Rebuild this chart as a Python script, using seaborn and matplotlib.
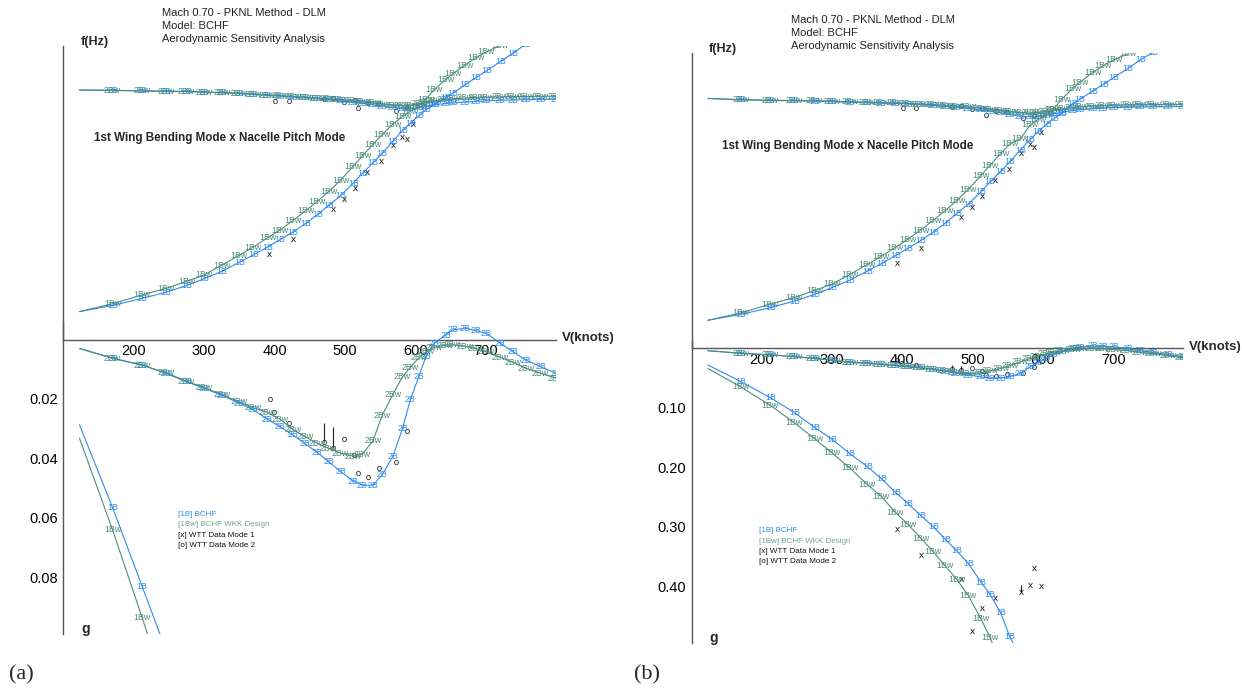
import numpy as np
import pandas as pd
import matplotlib
matplotlib.use("Agg")
import matplotlib.pyplot as plt
import seaborn as sns

# ---------------- data ----------------
V = [123, 170, 212, 246, 275, 300, 325, 350, 370, 390, 408, 426, 444, 461, 477, 494,
     512, 525, 540, 553, 568, 582, 593, 605, 615, 627, 643, 653, 671, 686, 701, 721,
     739, 757, 778, 800]

# panel (a) frequency (tick units)
a_f_1B = [0.95, 1.16, 1.40, 1.61, 1.84, 2.07, 2.32, 2.63, 2.88, 3.15, 3.40, 3.66, 3.95, 4.25,
          4.57, 4.90, 5.33, 5.66, 6.02, 6.34, 6.75, 7.12, 7.37, 7.62, 7.82, 8.02, 8.24, 8.39,
          8.68, 8.92, 9.15, 9.47, 9.76, 10.06]
a_f_1Bw = [0.95, 1.22, 1.52, 1.74, 1.98, 2.20, 2.53, 2.87, 3.15, 3.46, 3.73, 4.05, 4.38, 4.71,
           5.04, 5.43, 5.91, 6.26, 6.65, 6.98, 7.33, 7.60, 7.78, 7.95, 8.18, 8.52, 8.85, 9.05,
           9.35, 9.60, 9.80, 10.02]
a_f_2B = [8.50, 8.49, 8.47, 8.46, 8.45, 8.43, 8.41, 8.38, 8.35, 8.32, 8.29, 8.26, 8.23, 8.20,
          8.17, 8.13, 8.09, 8.05, 8.00, 7.95, 7.90, 7.86, 7.86, 7.90, 7.95, 8.00, 8.04, 8.06,
          8.09, 8.11, 8.13, 8.15, 8.16, 8.17, 8.18, 8.19]
a_f_2Bw = [8.50, 8.49, 8.47, 8.46, 8.45, 8.43, 8.41, 8.39, 8.36, 8.33, 8.31, 8.28, 8.25, 8.22,
           8.20, 8.17, 8.13, 8.10, 8.06, 8.02, 7.98, 7.97, 7.98, 8.03, 8.08, 8.13, 8.18, 8.20,
           8.23, 8.25, 8.26, 8.27, 8.28, 8.28, 8.29, 8.29]
# panel (a) damping g
a_g_2B = [0.0030, 0.0063, 0.0086, 0.0114, 0.0142, 0.0164, 0.0187, 0.0214, 0.0236, 0.0268,
          0.0293, 0.0321, 0.0351, 0.0380, 0.0411, 0.0444, 0.0476, 0.0490, 0.0490, 0.0455,
          0.0394, 0.0299, 0.0203, 0.0125, 0.0058, 0.0013, -0.0015, -0.0032, -0.0038, -0.0030,
          -0.0021, 0.0013, 0.0041, 0.0069, 0.0091, 0.0114]
a_g_2Bw = [0.0030, 0.0063, 0.0086, 0.0112, 0.0140, 0.0162, 0.0185, 0.0210, 0.0230, 0.0245,
           0.0268, 0.0302, 0.0327, 0.0349, 0.0366, 0.0382, 0.0392, 0.0385, 0.0340, 0.0255,
           0.0185, 0.0125, 0.0093, 0.0062, 0.0042, 0.0026, 0.0019, 0.0018, 0.0023, 0.0030,
           0.0042, 0.0060, 0.0077, 0.0097, 0.0113, 0.0130]
a_g_1B = [0.0287, 0.0565, 0.0830, 0.1045]
a_g_1Bw = [0.0332, 0.0640, 0.0935, 0.1180]

# panel (b) frequency
b_f_1B = [0.95, 1.15, 1.38, 1.60, 1.83, 2.06, 2.31, 2.62, 2.87, 3.14, 3.39, 3.65, 3.94, 4.24,
          4.56, 4.89, 5.31, 5.64, 6.00, 6.32, 6.72, 7.08, 7.34, 7.59, 7.78, 7.97, 8.30, 8.45,
          8.72, 8.95, 9.18, 9.48, 9.78, 10.03]
b_f_1Bw = [0.95, 1.20, 1.50, 1.72, 1.96, 2.18, 2.50, 2.84, 3.12, 3.42, 3.70, 4.01, 4.34, 4.67,
           5.00, 5.39, 5.86, 6.21, 6.60, 6.93, 7.10, 7.57, 7.75, 7.92, 8.10, 8.45, 8.82, 9.02,
           9.35, 9.58, 9.78, 9.98]
b_f_2B = [8.47, 8.42, 8.40, 8.39, 8.38, 8.36, 8.34, 8.32, 8.31, 8.30, 8.28, 8.26, 8.23, 8.20,
          8.17, 8.13, 8.08, 8.04, 7.98, 7.92, 7.87, 7.85, 7.86, 7.90, 7.95, 8.00, 8.06, 8.09,
          8.12, 8.14, 8.16, 8.17, 8.18, 8.19, 8.19, 8.20]
b_f_2Bw = [8.47, 8.43, 8.41, 8.40, 8.39, 8.38, 8.36, 8.34, 8.33, 8.32, 8.30, 8.28, 8.26, 8.23,
           8.21, 8.18, 8.14, 8.10, 8.06, 8.02, 7.99, 7.98, 7.99, 8.03, 8.08, 8.12, 8.16, 8.19,
           8.21, 8.23, 8.24, 8.25, 8.26, 8.26, 8.27, 8.27]
# panel (b) damping
b_g_2B = [0.004, 0.0084, 0.011, 0.014, 0.017, 0.020, 0.0235, 0.025, 0.027, 0.029, 0.031,
          0.033, 0.0355, 0.0385, 0.042, 0.045, 0.048, 0.0505, 0.050, 0.048, 0.042, 0.031,
          0.024, 0.0165, 0.011, 0.006, 0.0005, -0.002, -0.004, -0.0035, -0.0025, 0.0005,
          0.004, 0.007, 0.0105, 0.014]
b_g_2Bw = [0.004, 0.0084, 0.011, 0.014, 0.017, 0.020, 0.0235, 0.025, 0.027, 0.029, 0.031,
           0.033, 0.0355, 0.038, 0.041, 0.0425, 0.041, 0.038, 0.034, 0.029, 0.023, 0.017,
           0.013, 0.009, 0.0065, 0.004, 0.002, 0.001, 0.0005, 0.001, 0.002, 0.004, 0.007,
           0.009, 0.012, 0.016]
b_g_1B = [0.028, 0.056, 0.083, 0.108, 0.133, 0.153, 0.177, 0.199, 0.219, 0.242, 0.261, 0.281,
          0.300, 0.321, 0.340, 0.362, 0.393, 0.414, 0.445, 0.485, 0.520]
b_g_1Bw = [0.034, 0.065, 0.096, 0.125, 0.152, 0.176, 0.201, 0.229, 0.249, 0.276, 0.296, 0.319,
           0.342, 0.366, 0.388, 0.416, 0.455, 0.487, 0.530]

# wind tunnel test data
wtt1_freq_v = [392, 426, 483, 499, 514, 532, 552, 569, 581.5, 588, 597]
wtt1_freq_f = [2.90, 3.41, 4.44, 4.80, 5.17, 5.70, 6.09, 6.63, 6.91, 6.83, 7.33]
wtt1_damp_v = [392, 426, 483, 499, 514, 532, 569, 581.5, 588, 597]
wtt1_damp_g = [0.303, 0.348, 0.388, 0.476, 0.437, 0.420, 0.410, 0.398, 0.370, 0.400]
wtt2_freq_v = [401, 420, 471, 483, 499, 514, 519, 533, 549, 572, 588]
wtt2_freq_f = [8.14, 8.14, 8.19, 8.22, 8.10, 8.16, 7.90, 8.05, 8.02, 7.79, 7.88]
wtt2_damp_v = [393, 400, 420, 471, 483, 499, 513, 519, 533, 549, 572, 588]
wtt2_damp_g = [0.020, 0.0243, 0.0282, 0.0346, 0.0364, 0.0336, 0.0388, 0.045, 0.0463, 0.0431,
               0.0411, 0.0307]
bar2_v = [471, 483]
bar2_lo = [0.0280, 0.0295]
bar2_hi = [0.0346, 0.0364]
bar1_v = [569]
bar1_lo = [0.3985]
bar1_hi = [0.410]

x_ticks = [200, 300, 400, 500, 600, 700]
a_g_ticks = [0.02, 0.04, 0.06, 0.08]
b_g_ticks = [0.10, 0.20, 0.30, 0.40]

title_lines = ["Mach 0.70 - PKNL Method - DLM", "Model: BCHF", "Aerodynamic Sensitivity Analysis"]
annot = "1st Wing Bending Mode x Nacelle Pitch Mode"
legend_items = ["[1B] BCHF", "[1Bw] BCHF WKK Design", "[x] WTT Data Mode 1", "[o] WTT Data Mode 2"]

# ---------------- style ----------------
sns.set_theme(style="white")
plt.rcParams['font.family'] = ['Liberation Sans', 'DejaVu Sans']

BLUE = "#2E8BEF"
GREEN = "#4B8C7B"
GREEN_L = "#6FA596"
AXC = "#555555"

W, H = 1242, 695
fig = plt.figure(figsize=(W / 100, H / 100), dpi=100)
fig.patch.set_facecolor("white")


def T(x, y, s, **kw):
    kw.setdefault("va", "center")
    kw.setdefault("ha", "left")
    fig.text(x / W, 1 - y / H, s, **kw)


def curve(ax, vx, vy, color, lbl):
    n = min(len(vx), len(vy))
    df = pd.DataFrame({"V": vx[:n], "y": vy[:n]})
    sns.lineplot(data=df, x="V", y="y", ax=ax, color=color, lw=0.8, sort=False,
                 estimator=None, legend=False)
    for i in range(1, n):
        ax.text(df.V[i], df.y[i], lbl, color=color, fontsize=6.3, ha="center", va="center",
                clip_on=True)


def wtt(ax, vx, vy, m):
    df = pd.DataFrame({"V": vx, "y": vy})
    sns.scatterplot(data=df, x="V", y="y", ax=ax, marker=r"$\mathrm{%s}$" % m, s=14,
                    color="#222222", linewidth=0, legend=False)


def panel(x0, x1, ytop, yaxis, ybot, gmax, gneg, gticks, gfmt, d, lab):
    k = (ybot - yaxis) / gmax
    gtop_px = yaxis - gneg * k
    axF = fig.add_axes([x0 / W, 1 - yaxis / H, (x1 - x0) / W, (yaxis - ytop) / H])
    axG = fig.add_axes([x0 / W, 1 - ybot / H, (x1 - x0) / W, (ybot - gtop_px) / H])

    # frequency part
    curve(axF, V, d["f_2B"], BLUE, "2B")
    curve(axF, V, d["f_2Bw"], GREEN, "2Bw")
    curve(axF, V, d["f_1B"], BLUE, "1B")
    curve(axF, V, d["f_1Bw"], GREEN, "1Bw")
    wtt(axF, wtt1_freq_v, wtt1_freq_f, "x")
    wtt(axF, wtt2_freq_v, wtt2_freq_f, "o")
    # damping part
    curve(axG, V, d["g_2B"], BLUE, "2B")
    curve(axG, V, d["g_2Bw"], GREEN, "2Bw")
    curve(axG, V, d["g_1B"], BLUE, "1B")
    curve(axG, V, d["g_1Bw"], GREEN, "1Bw")
    wtt(axG, wtt1_damp_v, wtt1_damp_g, "x")
    wtt(axG, wtt2_damp_v, wtt2_damp_g, "o")
    axG.vlines(bar2_v, bar2_lo, bar2_hi, color="#222222", lw=0.8)
    axG.vlines(bar1_v, bar1_lo, bar1_hi, color="#222222", lw=0.8)

    for ax in (axF, axG):
        ax.set_xlim(100, 800)
        ax.patch.set_alpha(0)
        for s in ax.spines.values():
            s.set_visible(False)
        ax.spines["left"].set_visible(True)
        ax.spines["left"].set_color(AXC)
        ax.spines["left"].set_linewidth(1.0)
        ax.set_xlabel("")
        ax.set_ylabel("")
    axF.set_ylim(0, 10)
    axG.set_ylim(gmax, -gneg)

    # x axis on the frequency axes
    axF.spines["bottom"].set_visible(True)
    axF.spines["bottom"].set_color(AXC)
    axF.spines["bottom"].set_linewidth(1.0)
    axF.set_xticks(x_ticks)
    axF.set_xticklabels([str(t) for t in x_ticks], fontsize=10.5)
    axF.set_xticks([800], minor=True)
    axF.tick_params(axis="x", which="major", direction="inout", length=5, width=0.9,
                    color=AXC, pad=1, labelcolor="black")
    axF.tick_params(axis="x", which="minor", direction="inout", length=11, width=0.9,
                    color=AXC)
    axF.set_yticks(range(1, 10))
    axF.set_yticklabels([])
    axF.set_yticks([10], minor=True)
    axF.tick_params(axis="y", which="major", direction="in", length=5, width=0.9, color=AXC)
    axF.tick_params(axis="y", which="minor", direction="in", length=10, width=0.9, color=AXC)

    axG.set_xticks([])
    axG.set_yticks(gticks)
    axG.set_yticklabels([gfmt % t for t in gticks], fontsize=10.5)
    axG.set_yticks([gmax], minor=True)
    axG.tick_params(axis="y", which="major", direction="in", length=5, width=0.9, color=AXC,
                    pad=4, labelcolor="black")
    axG.tick_params(axis="y", which="minor", direction="in", length=10, width=0.9, color=AXC)

    # texts
    T(x0 + 17, ytop - 4, "f(Hz)", fontsize=9, fontweight="bold")
    T(x0 + 18, ybot - 5, "g", fontsize=10, fontweight="bold")
    T(x1 + 6, yaxis - 1, "V(knots)", fontsize=9.5, fontweight="bold")
    for i, s in enumerate(title_lines):
        T(x0 + 99, ytop - 33 + 13 * i, s, fontsize=8, color="#222222")
    T(d["ann"][0], d["ann"][1], annot, fontsize=8.4, fontweight="bold")
    cols = [BLUE, GREEN_L, "#111111", "#111111"]
    for i, (s, c) in enumerate(zip(legend_items, cols)):
        T(d["leg"][0], d["leg"][1] + 10.3 * i, s, fontsize=5.8, color=c)
    T(d["lab"][0], d["lab"][1], lab, fontsize=16, family="Liberation Serif")


da = dict(f_1B=a_f_1B, f_1Bw=a_f_1Bw, f_2B=a_f_2B, f_2Bw=a_f_2Bw,
          g_1B=a_g_1B, g_1Bw=a_g_1Bw, g_2B=a_g_2B, g_2Bw=a_g_2Bw,
          ann=(94, 137.5), leg=(178, 514.5), lab=(9, 675))
db = dict(f_1B=b_f_1B, f_1Bw=b_f_1Bw, f_2B=b_f_2B, f_2Bw=b_f_2Bw,
          g_1B=b_g_1B, g_1Bw=b_g_1Bw, g_2B=b_g_2B, g_2Bw=b_g_2Bw,
          ann=(722, 146), leg=(759, 531), lab=(634, 675))

panel(63.3, 556.0, 46.0, 339.5, 634.0, 0.099, 0.006, a_g_ticks, "%.2f", da, "(a)")
panel(691.7, 1183.3, 53.3, 348.3, 642.7, 0.495, 0.012, b_g_ticks, "%.2f", db, "(b)")

fig.savefig("out.png", dpi=100, facecolor="white")
